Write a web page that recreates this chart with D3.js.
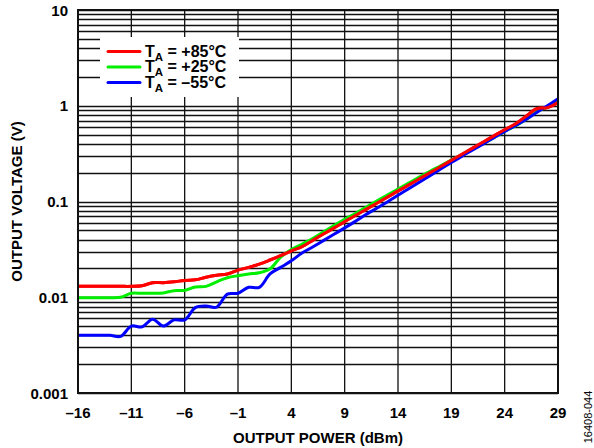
<!DOCTYPE html>
<html>
<head>
<meta charset="utf-8">
<script src="https://cdn.jsdelivr.net/npm/d3@7"></script>
<style>
  body { margin: 0; background: #fff; }
  text { font-family: "Liberation Sans", Arial, sans-serif; }
</style>
</head>
<body>
<script>
// output voltage vs output power, three temperatures

var power = [-16, -15, -14, -13, -12, -11, -10, -9, -8, -7, -6, -5, -4, -3, -2, -1, 0, 1, 2, 3, 4, 5, 6,
  7, 8, 9, 10, 11, 12, 13, 14, 15, 16, 17, 18, 19, 20, 21, 22, 23, 24, 25, 26, 27, 28, 29];

var vHot = [0.013, 0.013, 0.013, 0.013, 0.013, 0.013, 0.0132, 0.0142, 0.0142, 0.0145, 0.0150, 0.0152,
  0.0162, 0.0170, 0.0175, 0.0192, 0.0205, 0.0222, 0.0245, 0.0272, 0.0305, 0.0338, 0.0393, 0.0457,
  0.053, 0.0617, 0.0714, 0.0828, 0.096, 0.111, 0.129, 0.149, 0.173, 0.2, 0.232, 0.269, 0.312, 0.361,
  0.419, 0.485, 0.562, 0.645, 0.776, 0.93, 0.955, 1.08];

var vRoom = [0.0099, 0.0099, 0.0099, 0.0099, 0.0100, 0.0110, 0.0110, 0.0110, 0.0111, 0.0117, 0.0118,
  0.0128, 0.0130, 0.0145, 0.0160, 0.0168, 0.0175, 0.0180, 0.0198, 0.0262, 0.0315, 0.0358, 0.041,
  0.048, 0.056, 0.065, 0.075, 0.087, 0.101, 0.117, 0.135, 0.156, 0.18, 0.207, 0.236, 0.27, 0.308,
  0.352, 0.404, 0.465, 0.54, 0.615, 0.72, 0.86, 0.98, 1.13];

var vCold = [0.0040, 0.0040, 0.0040, 0.0040, 0.0039, 0.0050, 0.0049, 0.0059, 0.0050, 0.0058, 0.0058,
  0.0078, 0.0081, 0.0079, 0.0108, 0.0110, 0.0127, 0.0127, 0.0175, 0.0205, 0.0240, 0.0290, 0.0335,
  0.039, 0.0455, 0.053, 0.062, 0.073, 0.085, 0.099, 0.116, 0.136, 0.159, 0.186, 0.218, 0.255, 0.298,
  0.345, 0.40, 0.465, 0.54, 0.62, 0.72, 0.85, 1.00, 1.18];

var xTicks = [-16, -11, -6, -1, 4, 9, 14, 19, 24, 29];
var yTicks = [0.001, 0.01, 0.1, 1, 10];
var yTickLabels = ["0.001", "0.01", "0.1", "1", "10"];

var seriesNames = ["+85°C", "+25°C", "–55°C"];
var seriesColors = ["#ff0000", "#00ee00", "#0000ff"];

var margin = {top: 10, right: 36, bottom: 55, left: 78},
    width = 594 - margin.left - margin.right,
    height = 448 - margin.top - margin.bottom;

var svg = d3.select("body").append("svg")
    .attr("width", 594)
    .attr("height", 448);

var x = d3.scaleLinear().domain([-16, 29]).range([0, width]),
    y = d3.scaleLog().domain([0.001, 10]).range([height, 0]);

var g = svg.append("g")
    .attr("transform", "translate(" + margin.left + "," + margin.top + ")");

// minor + major horizontal grid
var hLines = [];
yTicks.slice(0, -1).forEach(function(d) {
  for (var k = 1; k <= 9; k++) hLines.push(d * k);
});
hLines.push(10);

g.selectAll(".hgrid")
  .data(hLines)
  .enter().append("line")
    .attr("x1", 0).attr("x2", width)
    .attr("y1", function(d) { return Math.round(y(d)) + 0.5; })
    .attr("y2", function(d) { return Math.round(y(d)) + 0.5; })
    .attr("stroke", "#111")
    .attr("stroke-width", 1.3);

g.selectAll(".vgrid")
  .data(xTicks)
  .enter().append("line")
    .attr("x1", function(d) { return x(d); })
    .attr("x2", function(d) { return x(d); })
    .attr("y1", 0).attr("y2", height)
    .attr("stroke", "#111")
    .attr("stroke-width", 1.3);

// legend box hides grid behind it
var legend = g.append("g").attr("transform", "translate(22,27)");
legend.append("rect")
    .attr("width", 139).attr("height", 60)
    .attr("fill", "#fff");

// curves
var line = d3.line()
    .x(function(d) { return x(d[0]); })
    .y(function(d) { return y(d[1]); })
    .curve(d3.curveCatmullRom.alpha(0.5));

[vHot, vRoom, vCold, vHot].forEach(function(vals, i) {
  var pts = power.map(function(p, j) { return [p, vals[j]]; });
  g.append("path")
    .datum(pts)
    .attr("fill", "none")
    .attr("stroke", seriesColors[i % 3])
    .attr("stroke-width", 3)
    .attr("stroke-linejoin", "round")
    .attr("d", line);
});

// plot frame
g.append("rect")
    .attr("width", width).attr("height", height)
    .attr("fill", "none")
    .attr("stroke", "#111")
    .attr("stroke-width", 2);

// legend entries
seriesNames.forEach(function(name, i) {
  var yy = 14.5 + i * 15.5;
  legend.append("line")
    .attr("x1", 8).attr("x2", 40)
    .attr("y1", yy).attr("y2", yy)
    .attr("stroke", seriesColors[i])
    .attr("stroke-width", 3)
    .attr("stroke-linecap", "round");
  var t = legend.append("text")
    .attr("x", 45).attr("y", yy + 5)
    .style("font-size", "16px")
    .style("font-weight", "bold");
  t.append("tspan").text("T");
  t.append("tspan").attr("dy", 4).style("font-size", "11.5px").text("A");
  t.append("tspan").attr("dy", -4).text(" = " + name);
});

// tick labels
g.selectAll(".xlab")
  .data(xTicks)
  .enter().append("text")
    .attr("x", function(d) { return x(d); })
    .attr("y", height + 25)
    .style("text-anchor", "middle")
    .style("font-size", "15px")
    .style("font-weight", "bold")
    .text(function(d) { return d < 0 ? "–" + (-d) : d; });

g.selectAll(".ylab")
  .data(yTicks)
  .enter().append("text")
    .attr("x", -10)
    .attr("y", function(d) { return y(d) + 5.5; })
    .style("text-anchor", "end")
    .style("font-size", "15px")
    .style("font-weight", "bold")
    .text(function(d, i) { return yTickLabels[i]; });

// axis titles
svg.append("text")
    .attr("x", margin.left + width / 2)
    .attr("y", 443)
    .style("text-anchor", "middle")
    .style("font-size", "15px")
    .style("font-weight", "bold")
    .text("OUTPUT POWER (dBm)");

svg.append("text")
    .attr("transform", "translate(22," + (margin.top + height / 2) + ") rotate(-90)")
    .style("text-anchor", "middle")
    .style("font-size", "15px")
    .style("font-weight", "bold")
    .text("OUTPUT VOLTAGE (V)");

svg.append("text")
    .attr("transform", "translate(592,417) rotate(-90)")
    .style("text-anchor", "middle")
    .style("font-size", "11px")
    .text("16408-044");
</script>
</body>
</html>
